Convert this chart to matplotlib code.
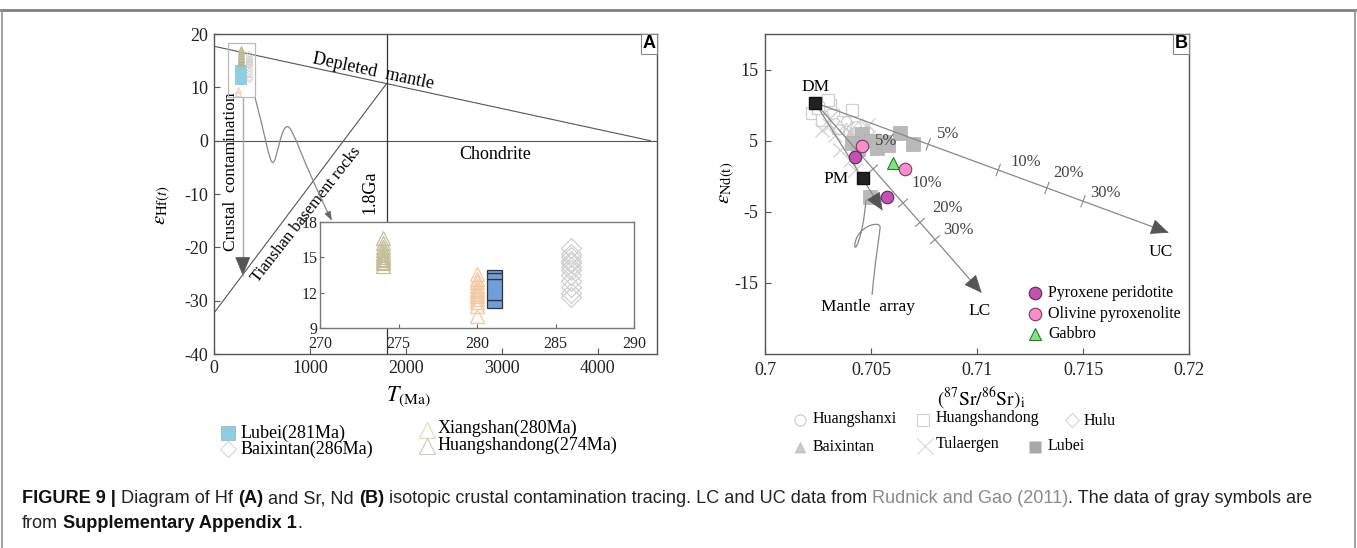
import numpy as np
import matplotlib
matplotlib.use('Agg')
import matplotlib.pyplot as plt
from matplotlib.path import Path
from matplotlib.patches import PathPatch, Rectangle, Polygon
from matplotlib.lines import Line2D
from matplotlib import font_manager

plt.rcParams['font.family'] = ['Liberation Serif', 'DejaVu Serif']
plt.rcParams['mathtext.fontset'] = 'stix'
plt.rcParams['axes.unicode_minus'] = False

# ---------------- data: panel A (Hf) ----------------
hsd_age = 274   # Huangshandong
hsd_hf = [14.3, 14.5, 14.6, 14.8, 14.9, 15.0, 15.2, 15.4, 15.6, 15.9, 16.2, 16.6]
xs_age = 280    # Xiangshan
xs_hf = [10.0, 10.9, 11.2, 11.5, 11.7, 11.9, 12.1, 12.3, 12.6, 12.9, 13.2, 13.6]
lb_age = 281    # Lubei (stacked ranges)
lb_low = [10.7, 11.4, 13.2, 13.65]
lb_high = [11.4, 13.2, 13.65, 13.9]
bx_age = 286    # Baixintan
bx_hf = [11.6, 12.0, 12.5, 13.0, 13.5, 13.9, 14.2, 14.5, 14.7, 15.0, 15.3, 15.8]

dm_T = [0, 4550]; dm_eps = [17.7, 0.0]           # depleted mantle
tian_T = [0, 1800]; tian_eps = [-32.3, 10.7]     # Tianshan basement rocks
age_line_T = 1800
crust_T = [300, 300]; crust_eps = [8.1, -25.1]   # crustal contamination arrow
leader_A = [(428, 8.1), (520, 2.0), (580, -4.5), (617, -4.1),
            (660, -3.6), (700, 3.2), (773, 2.6),
            (830, 2.2), (900, -3.0), (1223, -14.8)]

# ---------------- data: panel B (Sr-Nd) ----------------
dm_pt = (0.70236, 10.35)
pm_pt = (0.70460, -0.2)
uc_tip = (0.7190, -7.9)
lc_tip = (0.71019, -16.3)
ma_tip = (0.70552, -4.7)
uc_tick_sr = [0.7077, 0.7110, 0.7133, 0.7150]
lc_tick_sr = [0.7051, 0.70651, 0.70731, 0.70802]
pct_labels = ['5%', '10%', '20%', '30%']

pyx_sr = [0.70425, 0.70575]; pyx_nd = [2.75, -2.9]     # pyroxene peridotite
oli_sr = [0.70458, 0.70660]; oli_nd = [4.3, 1.06]      # olivine pyroxenolite
gab_sr = [0.70604]; gab_nd = [1.9]                     # gabbro

g_hsd_sr = [0.70307, 0.70222, 0.70321, 0.70269, 0.70410, 0.70368, 0.70344, 0.70297, 0.70250]
g_hsd_nd = [10.07, 8.94, 8.66, 7.96, 9.37, 7.68, 6.83, 10.77, 9.6]
g_tul_sr = [0.70269, 0.70330, 0.70377, 0.70401, 0.70354, 0.70448, 0.70486, 0.70307, 0.70425, 0.70300]
g_tul_nd = [6.55, 5.85, 6.83, 2.32, 3.73, 5.14, 7.25, 8.24, 0.92, 7.2]
g_hsx_sr = [0.70330, 0.70360, 0.70390, 0.70410, 0.70350, 0.70430, 0.70380]
g_hsx_nd = [7.5, 7.0, 7.3, 6.8, 6.6, 7.1, 7.8]
g_hulu_sr = [0.70380, 0.70420, 0.70450, 0.70480]
g_hulu_nd = [6.5, 6.0, 6.9, 6.3]
g_bx_sr = [0.70400, 0.70440]
g_bx_nd = [6.2, 5.6]
g_lb_sr = [0.70458, 0.70410, 0.70440, 0.70500, 0.70528, 0.70560, 0.70580, 0.70637, 0.70698, 0.70495]
g_lb_nd = [6.0, 4.7, 3.8, 4.9, 4.0, 4.8, 4.4, 6.1, 4.5, -2.9]

ma_leader = [(0.70505, -16.69), (0.70519, -12.04), (0.70538, -8.66), (0.70543, -7.25),
             (0.70547, -6.13), (0.70439, -6.97), (0.70425, -9.37),
             (0.70415, -11.20), (0.70462, -8.94), (0.70476, -3.31)]

# ---------------- figure ----------------
W, H = 1357, 548
fig = plt.figure(figsize=(W / 100, H / 100), dpi=100)


def rect(l, t, r, b):
    return [l / W, 1 - b / H, (r - l) / W, (b - t) / H]


def fx(px):
    return px / W


def fy(py):
    return 1 - py / H


# outer frame
fig.add_artist(Line2D([fx(1), fx(1355)], [fy(10), fy(10)], color='#808080', lw=2))
fig.add_artist(Line2D([fx(1355), fx(1355)], [fy(10), fy(548)], color='#909090', lw=1.2))
fig.add_artist(Line2D([fx(1.5), fx(1.5)], [fy(10), fy(548)], color='#909090', lw=1.2))

axA = fig.add_axes(rect(214, 34, 657, 354))
axB = fig.add_axes(rect(765, 34, 1189, 354))
axI = fig.add_axes(rect(320, 222, 634, 328))

spine_c = '#555555'
for ax in (axA, axB, axI):
    for s in ax.spines.values():
        s.set_color(spine_c)
        s.set_linewidth(1.0)

line_c = '#555555'
head_c = '#555555'


def arrow_head(ax, start, tip, L=15, Wd=12, color=head_c, z=6):
    s = ax.transData.transform(start)
    t = ax.transData.transform(tip)
    d = t - s
    d = d / np.hypot(*d)
    n = np.array([-d[1], d[0]])
    base = t - d * L
    pts = np.array([t, base + n * Wd / 2, base - n * Wd / 2])
    pts = ax.transData.inverted().transform(pts)
    ax.add_patch(Polygon(pts, closed=True, fc=color, ec=color, lw=0.5, zorder=z, clip_on=False))


def perp_tick(ax, p, direction_from, direction_to, half=6, color='#888888'):
    s = ax.transData.transform(direction_from)
    t = ax.transData.transform(direction_to)
    d = t - s
    d = d / np.hypot(*d)
    n = np.array([-d[1], d[0]])
    c = ax.transData.transform(p)
    pts = ax.transData.inverted().transform(np.array([c + n * half, c - n * half]))
    ax.plot(pts[:, 0], pts[:, 1], color=color, lw=0.8, zorder=3)


def curve_path(pts):
    codes = [Path.MOVETO] + [Path.CURVE4] * (len(pts) - 1)
    return Path(pts, codes)


# ================= Panel A =================
axA.set_xlim(0, 4620)
axA.set_ylim(-40, 20)
axA.set_xticks([0, 1000, 2000, 3000, 4000])
axA.set_yticks([-40, -30, -20, -10, 0, 10, 20])
axA.tick_params(direction='in', length=4, labelsize=13, color=spine_c, labelcolor='#222222', pad=4)

axA.plot(dm_T, dm_eps, color=line_c, lw=0.8)
axA.axhline(0, color=line_c, lw=0.8)
axA.axvline(age_line_T, color='#333333', lw=0.9)
axA.plot(tian_T, tian_eps, color=line_c, lw=0.8)
axA.plot(crust_T, crust_eps, color='#aaaaaa', lw=1.0)
arrow_head(axA, (crust_T[0], crust_eps[0]), (crust_T[1], crust_eps[1]), L=17, Wd=14)

axA.text(1660, 12.9, 'Depleted  mantle', rotation=-12, ha='center', va='center', fontsize=13)
axA.text(2936, -2.6, 'Chondrite', ha='center', va='center', fontsize=13)
axA.text(1630, -9.6, '1.8Ga', rotation=90, ha='center', va='center', fontsize=13)
axA.text(178, -5.8, 'Crustal  contamination', rotation=90, ha='center', va='center', fontsize=12.5)
axA.text(960, -13.8, 'Tianshan basement rocks', rotation=52, ha='center', va='center',
         fontsize=12, rotation_mode='anchor')

# thumbnail box
axA.add_patch(Rectangle((146, 8.1), 282, 10.3, fc='none', ec='#bbbbbb', lw=0.9, zorder=4))


def thumb_eps(v):
    return 8.5 + (np.asarray(v) - 9) * 1.144


axA.bar([282], [thumb_eps(max(lb_high)) - thumb_eps(min(lb_low))], bottom=[thumb_eps(min(lb_low))],
        width=126, color='#8ccfe0', edgecolor='none', zorder=4)
axA.plot([285] * len(hsd_hf), thumb_eps(hsd_hf), '^', ms=5, mfc='#c8c29a', mec='#b9b38c', mew=0.6, zorder=5)
axA.plot([255] * 2, thumb_eps([9.4, 9.8]), '^', ms=5, mfc='none', mec='#f0c8a8', mew=0.6, zorder=5)
axA.plot([365] * len(bx_hf), thumb_eps(bx_hf), 'D', ms=3.5, mfc='none', mec='#cccccc', mew=0.5, zorder=5)

# leader squiggle to inset
pp = PathPatch(curve_path(leader_A), fc='none', ec='#888888', lw=0.9, zorder=3)
axA.add_patch(pp)
arrow_head(axA, leader_A[-2], leader_A[-1], L=8, Wd=6, color='#666666')

axA.text(0.997, 0.996, 'A', transform=axA.transAxes, ha='right', va='top', fontsize=13,
         fontweight='bold', family=['Liberation Sans', 'DejaVu Sans'],
         bbox=dict(boxstyle='square,pad=0.08', fc='white', ec='#888888', lw=0.8), zorder=10)

axA.set_ylabel(r'$\varepsilon_{\mathrm{Hf}(t)}$', fontsize=15)
axA.yaxis.set_label_coords(-0.093, 0.466)
axA.set_xlabel(r'$T_{\mathrm{(Ma)}}$', fontsize=16)
axA.xaxis.set_label_coords(0.438, -0.095)

# inset
axI.set_xlim(270, 290)
axI.set_ylim(9, 18)
axI.set_xticks([270, 275, 280, 285, 290])
axI.set_yticks([9, 12, 15, 18])
axI.tick_params(direction='in', length=3, labelsize=11.5, color='#666666', labelcolor='#222222', pad=2)
axI.tick_params(axis='x', pad=5.5)
for s in axI.spines.values():
    s.set_color('#777777')
axI.plot([hsd_age] * len(hsd_hf), hsd_hf, '^', ms=10, mfc='none', mec='#c4be98', mew=0.9)
axI.plot([xs_age] * len(xs_hf), xs_hf, '^', ms=10, mfc='none', mec='#f4c7a2', mew=0.9)
axI.bar([lb_age + 0.1] * len(lb_low), np.array(lb_high) - np.array(lb_low), bottom=lb_low,
        width=0.95, color='#6f9fdb', edgecolor='#333333', lw=0.9, zorder=3)
axI.plot([bx_age] * len(bx_hf), bx_hf, 'D', ms=10, mfc='none', mec='#cfcfcf', mew=0.9)

# ================= Panel B =================
axB.set_xlim(0.7, 0.72)
axB.set_ylim(-25, 20)
axB.set_xticks([0.7, 0.705, 0.71, 0.715, 0.72])
axB.set_xticklabels(['0.7', '0.705', '0.71', '0.715', '0.72'])
axB.set_yticks([-15, -5, 5, 15])
axB.tick_params(direction='in', length=4, labelsize=13, color=spine_c, labelcolor='#222222')
axB.tick_params(axis='x', pad=6)
axB.tick_params(axis='y', pad=5)

# grey literature data
axB.plot(g_hsd_sr, g_hsd_nd, 's', ms=9, mfc='white', mec='#cfcfcf', mew=0.9, zorder=2)
axB.plot(g_tul_sr, g_tul_nd, 'x', ms=10, mec='#d0d0d0', mew=0.9, zorder=2)
axB.plot(g_hsx_sr, g_hsx_nd, 'o', ms=7, mfc='white', mec='#c8c8c8', mew=0.8, zorder=2)
axB.plot(g_hulu_sr, g_hulu_nd, 'D', ms=7, mfc='none', mec='#d0d0d0', mew=0.8, zorder=2)
axB.plot(g_bx_sr, g_bx_nd, '^', ms=7, mfc='#cccccc', mec='none', zorder=2)
axB.plot(g_lb_sr, g_lb_nd, 's', ms=10, mfc='#b9b9b9', mec='#b0b0b0', mew=0.5, zorder=2.5)

# mixing lines
for tip in (uc_tip, lc_tip, ma_tip):
    axB.plot([dm_pt[0], tip[0]], [dm_pt[1], tip[1]], color='#888888', lw=0.9, zorder=3)
arrow_head(axB, dm_pt, uc_tip, L=16, Wd=14)
arrow_head(axB, dm_pt, lc_tip, L=16, Wd=14)
arrow_head(axB, dm_pt, ma_tip, L=16, Wd=14)


def on_line(p0, p1, x):
    return p0[1] + (p1[1] - p0[1]) * (x - p0[0]) / (p1[0] - p0[0])


for x in uc_tick_sr:
    perp_tick(axB, (x, on_line(dm_pt, uc_tip, x)), dm_pt, uc_tip)
for x in lc_tick_sr:
    perp_tick(axB, (x, on_line(dm_pt, lc_tip, x)), dm_pt, lc_tip)

uc_lab_pos = [(0.70811, 6.0), (0.71156, 2.04), (0.71358, 0.49), (0.71533, -2.3)]
lc_lab_pos = [(0.70519, 5.0), (0.70693, -0.9), (0.70788, -4.4), (0.70840, -7.5)]
for (x, y), t in zip(uc_lab_pos, pct_labels):
    axB.text(x, y, t, ha='left', va='center', fontsize=12, color='#444444', zorder=7)
for (x, y), t in zip(lc_lab_pos, pct_labels):
    axB.text(x, y, t, ha='left', va='center', fontsize=12, color='#444444', zorder=7)

# mantle array leader
axB.add_patch(PathPatch(curve_path(ma_leader), fc='none', ec='#888888', lw=0.9, zorder=3))

# end members
axB.plot([dm_pt[0]], [dm_pt[1]], 's', ms=9, mfc='#222222', mec='#111111', zorder=8)
axB.plot([pm_pt[0]], [pm_pt[1]], 's', ms=9, mfc='#222222', mec='#111111', zorder=8)
axB.text(0.70236, 12.6, 'DM', ha='center', va='center', fontsize=12.5)
axB.text(0.70396, -0.45, 'PM', ha='right', va='center', fontsize=12.5)
axB.text(0.70486, -18.4, 'Mantle  array', ha='center', va='center', fontsize=12.5)
axB.text(0.71014, -18.9, 'LC', ha='center', va='center', fontsize=12.5)
axB.text(0.71868, -10.6, 'UC', ha='center', va='center', fontsize=12.5)

# this study
axB.plot(pyx_sr, pyx_nd, 'o', ms=9, mfc='#c552b3', mec='#5a2a55', mew=0.8, zorder=9)
axB.plot(oli_sr, oli_nd, 'o', ms=9, mfc='#f98fc9', mec='#7a3a60', mew=0.8, zorder=9)
axB.plot(gab_sr, gab_nd, '^', ms=9, mfc='#80e680', mec='#2a7a2a', mew=0.8, zorder=9)

# inner legend
leg_items = [('o', '#c552b3', '#5a2a55', 'Pyroxene peridotite'),
             ('o', '#f98fc9', '#7a3a60', 'Olivine pyroxenolite'),
             ('^', '#80e680', '#2a7a2a', 'Gabbro')]
for (m, fc, ec, lab), yy in zip(leg_items, [0.1906, 0.125, 0.0625]):
    axB.plot([0.6368], [yy], m, ms=9, mfc=fc, mec=ec, mew=0.8, transform=axB.transAxes, clip_on=False)
    axB.text(0.6675, yy, lab, transform=axB.transAxes, ha='left', va='center', fontsize=11.5)

axB.text(0.997, 0.996, 'B', transform=axB.transAxes, ha='right', va='top', fontsize=13,
         fontweight='bold', family=['Liberation Sans', 'DejaVu Sans'],
         bbox=dict(boxstyle='square,pad=0.08', fc='white', ec='#888888', lw=0.8), zorder=10)

axB.set_ylabel(r'$\varepsilon_{\mathrm{Nd(t)}}$', fontsize=15)
axB.yaxis.set_label_coords(-0.066, 0.534)
axB.set_xlabel(r'$(^{87}\mathrm{Sr}/^{86}\mathrm{Sr})_{\mathrm{i}}$', fontsize=14)
axB.xaxis.set_label_coords(0.509, -0.100)


# ================= legends below panels =================
def fig_marker(xp, yp, **kw):
    fig.add_artist(Line2D([fx(xp)], [fy(yp)], linestyle='none', **kw))


def fig_label(xp, yp, s, size):
    fig.text(fx(xp), fy(yp), s, ha='left', va='center', fontsize=size)


fig_marker(228, 433, marker='s', ms=10, mfc='#8ccfe0', mec='#9ab', mew=0.5)
fig_label(241, 433, 'Lubei(281Ma)', 13)
fig_marker(228, 449, marker='D', ms=8, mfc='none', mec='#d8d8d8', mew=0.8)
fig_label(241, 449, 'Baixintan(286Ma)', 13)
fig_marker(427, 430, marker='^', ms=12, mfc='none', mec='#f4d2b5', mew=0.8)
fig_label(438, 428, 'Xiangshan(280Ma)', 13)
fig_marker(427, 446, marker='^', ms=12, mfc='none', mec='#cfcbb6', mew=0.8)
fig_label(438, 445, 'Huangshandong(274Ma)', 13)

fig_marker(800, 420, marker='o', ms=8, mfc='none', mec='#c8c8c8', mew=0.8)
fig_label(813, 419, 'Huangshanxi', 11.5)
fig_marker(923, 420, marker='s', ms=9, mfc='none', mec='#d0d0d0', mew=0.8)
fig_label(936, 418, 'Huangshandong', 11.5)
fig_marker(1072, 420, marker='D', ms=7, mfc='none', mec='#d5d5d5', mew=0.8)
fig_label(1084, 421, 'Hulu', 11.5)
fig_marker(800, 447, marker='^', ms=8, mfc='#c8c8c8', mec='none')
fig_label(813, 447, 'Baixintan', 11.5)
fig_marker(925, 446, marker='x', ms=12, mec='#d8d8d8', mew=0.8)
fig_label(936, 444, 'Tulaergen', 11.5)
fig_marker(1035, 447, marker='s', ms=8, mfc='#a8a8a8', mec='none')
fig_label(1048, 446, 'Lubei', 11.5)

# ================= caption =================
names = {f.name for f in font_manager.fontManager.ttflist}
cap_family = ['Liberation Sans Narrow'] if 'Liberation Sans Narrow' in names else ['Liberation Sans']
cap_family = cap_family + ['DejaVu Sans']

line1 = [("FIGURE 9 |", 'bold', '#111111', False),
         ("Diagram of Hf", 'normal', '#222222', True),
         ("(A)", 'bold', '#111111', True),
         ("and Sr, Nd", 'normal', '#222222', True),
         ("(B)", 'bold', '#111111', True),
         ("isotopic crustal contamination tracing. LC and UC data from", 'normal', '#222222', True),
         ("Rudnick and Gao (2011)", 'normal', '#8a8a8a', True),
         (". The data of gray symbols are", 'normal', '#222222', False)]
line2 = [("from", 'normal', '#222222', False),
         ("Supplementary Appendix 1", 'bold', '#111111', True),
         (".", 'normal', '#222222', False)]

cap_arts = []


def rich(xp, yp, segs, size):
    prev = None
    for txt, wt, col, sp in segs:
        if prev is None:
            t = fig.text(fx(xp), fy(yp), txt, ha='left', va='baseline', fontsize=size,
                         fontweight=wt, color=col, family=cap_family)
            cap_arts.append((t, False))
        else:
            t = fig.add_artist(matplotlib.text.Annotation(
                txt, xy=(1, 0), xycoords=prev, xytext=((0.278 * size) if sp else 0, 0),
                textcoords='offset points', ha='left', va='bottom', fontsize=size,
                fontweight=wt, color=col, family=cap_family))
            cap_arts.append((t, sp))
        prev = t
    return prev


size0 = 13.0
last1 = rich(22, 503, line1, size0)
rich(22, 528, line2, size0)
fig.canvas.draw()
r = fig.canvas.get_renderer()
right = last1.get_window_extent(r).x1
first = cap_arts[0][0].get_window_extent(r).x0
scale = (1313 - 22) / (right - first)
new_size = size0 * scale
for t, sp in cap_arts:
    t.set_fontsize(new_size)
    if isinstance(t, matplotlib.text.Annotation):
        t.xyann = ((0.278 * new_size) if sp else 0, 0)

fig.savefig('out.png', dpi=100)
